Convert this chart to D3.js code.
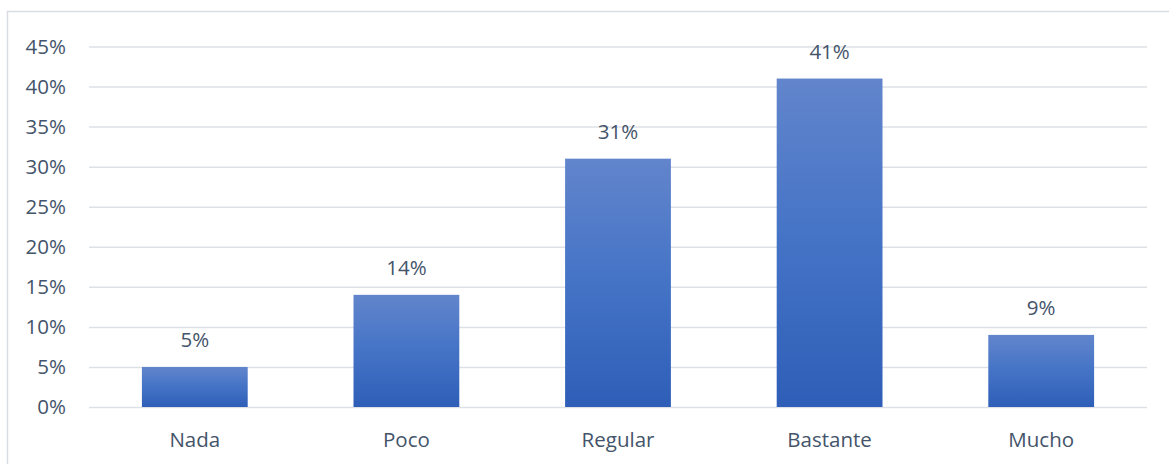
<!DOCTYPE html>
<html>
<head>
<meta charset="utf-8">
<script src="https://cdn.jsdelivr.net/npm/d3@7"></script>
<style>
html,body{margin:0;padding:0;background:#fff;}
svg{display:block;}
</style>
</head>
<body>
<svg id="chart" width="1169" height="464"></svg>
<script>
const categories = ["Nada", "Poco", "Regular", "Bastante", "Mucho"];
const values = [5, 14, 31, 41, 9];
const tickValues = [0, 5, 10, 15, 20, 25, 30, 35, 40, 45];

const W = 1169, H = 464;
const svg = d3.select("#chart");
const font = "'Open Sans', sans-serif";
const textColor = "#44546A";
const fs = "20.5px";

const x = d3.scaleBand().domain(categories).range([89, 1147]).paddingInner(0.5).paddingOuter(0.25);
const y = d3.scaleLinear().domain([0, 45]).range([407, 46.5]);

// chart border
svg.append("rect").attr("x", 7.5).attr("y", 11.5).attr("width", W).attr("height", H)
  .attr("fill", "none").attr("stroke", "#D9DDE3").attr("stroke-width", 1.5);

// gradient
const defs = svg.append("defs");
const grad = defs.append("linearGradient").attr("id", "barGrad")
  .attr("x1", 0).attr("y1", 0).attr("x2", 0).attr("y2", 1);
grad.append("stop").attr("offset", "0%").attr("stop-color", "#6285CC");
grad.append("stop").attr("offset", "50%").attr("stop-color", "#4473C6");
grad.append("stop").attr("offset", "100%").attr("stop-color", "#2E5EB7");

// gridlines
const yAxis = d3.axisLeft(y).tickValues(tickValues).tickSize(-(1147 - 89)).tickFormat(d => d + "%").tickPadding(23);
const gy = svg.append("g").attr("transform", "translate(89,0)").call(yAxis);
gy.select(".domain").remove();
gy.selectAll(".tick line").attr("stroke", "#DDE1E6").attr("stroke-width", 1.5);
gy.selectAll(".tick text").attr("fill", textColor).style("font-family", font).style("font-size", fs);

// bars
svg.selectAll("rect.bar").data(values).enter().append("rect")
  .attr("class", "bar")
  .attr("x", (d, i) => x(categories[i]))
  .attr("width", x.bandwidth())
  .attr("y", d => y(d))
  .attr("height", d => y(0) - y(d))
  .attr("fill", "url(#barGrad)");

// value labels
svg.selectAll("text.val").data(values).enter().append("text")
  .attr("class", "val")
  .attr("x", (d, i) => x(categories[i]) + x.bandwidth() / 2)
  .attr("y", d => y(d) - 20)
  .attr("text-anchor", "middle")
  .attr("fill", textColor)
  .style("font-family", font).style("font-size", fs)
  .text(d => d + "%");

// x axis labels
const xAxis = d3.axisBottom(x).tickSize(0).tickPadding(25);
const gx = svg.append("g").attr("transform", "translate(0,407)").call(xAxis);
gx.select(".domain").remove();
gx.selectAll(".tick text").attr("fill", textColor).style("font-family", font).style("font-size", fs);
</script>
</body>
</html>
